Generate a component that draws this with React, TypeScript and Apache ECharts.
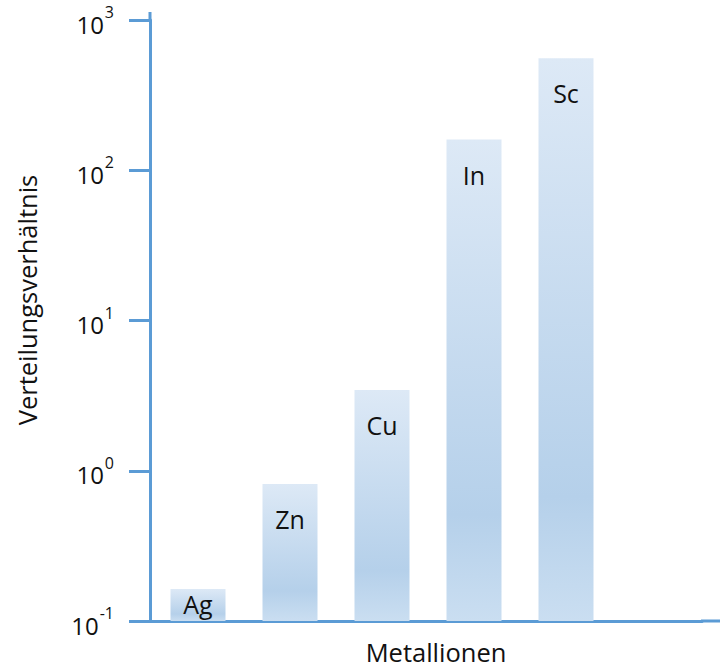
import React, { useEffect, useRef } from "react";
import * as echarts from "echarts";

const categories = ["Ag", "Zn", "Cu", "In", "Sc", ""];
const metals = ["Ag", "Zn", "Cu", "In", "Sc"];
const values = [0.163, 0.817, 3.45, 160, 556];
const yTickExponents = ["-1", "0", "1", "2", "3"];
const xTitle = "Metallionen";
const yTitle = "Verteilungsverhältnis";

const AXIS_BLUE = "#5b9bd5";
const FONT = "'Open Sans', 'Noto Sans', sans-serif";
const Y_MIN = 0.1;

export default function App() {
  const ref = useRef<HTMLDivElement>(null);
  useEffect(() => {
    if (!ref.current) return;
    const chart = echarts.init(ref.current, null, { renderer: "svg" });
    const gridLeft = 150;
    const gridTop = 20;
    const gridBottom = 49;
    const gridRight = 18;
    const barWidth = 55;
    const makeFill = () =>
      new echarts.graphic.LinearGradient(0, 0, 0, 1, [
        { offset: 0, color: "#dde9f6" },
        { offset: 0.78, color: "#b5d0ea" },
        { offset: 1, color: "#cadef1" },
      ]);
    chart.setOption({
      animation: false,
      backgroundColor: "#ffffff",
      grid: { left: gridLeft, top: gridTop, bottom: gridBottom, right: gridRight, containLabel: false },
      xAxis: {
        type: "category",
        data: categories,
        boundaryGap: true,
        axisLine: { show: true, lineStyle: { color: AXIS_BLUE, width: 3 } },
        axisTick: { show: false },
        axisLabel: { show: false },
        splitLine: { show: false },
      },
      yAxis: {
        type: "log",
        logBase: 10,
        min: Y_MIN,
        max: 1000,
        axisLine: { show: true, lineStyle: { color: AXIS_BLUE, width: 3 } },
        axisTick: { show: true, length: 21, inside: false, lineStyle: { color: AXIS_BLUE, width: 3 } },
        splitLine: { show: false },
        axisLabel: {
          margin: 36,
          formatter: (v: number) => {
            const e = Math.round(Math.log10(v));
            const s = yTickExponents.find((x) => Number(x) === e) ?? String(e);
            return "{b|10}{s|" + s + "}";
          },
          rich: {
            b: { fontSize: 24, fontFamily: FONT, color: "#111", lineHeight: 32, verticalAlign: "bottom" },
            s: { fontSize: 16, fontFamily: FONT, color: "#111", lineHeight: 32, verticalAlign: "top", padding: [0, 0, 0, 1] },
          },
        },
      },
      series: [
        {
          type: "custom",
          data: values.map((v, i) => [i, v]),
          encode: { x: 0, y: 1 },
          renderItem: (params: any, api: any) => {
            const idx = api.value(0);
            const v = api.value(1);
            const top = api.coord([idx, v]);
            const base = api.coord([idx, Y_MIN]);
            const h = base[1] - top[1];
            const cx = top[0] + 2;
            const labelY = h < 60 ? (top[1] + base[1]) / 2 - 1 : top[1] + 35;
            return {
              type: "group",
              children: [
                {
                  type: "rect",
                  shape: { x: cx - barWidth / 2, y: top[1], width: barWidth, height: h },
                  style: { fill: makeFill() },
                },
                {
                  type: "text",
                  x: cx,
                  y: labelY,
                  style: {
                    text: metals[params.dataIndex],
                    fontSize: 25,
                    fontFamily: FONT,
                    fill: "#111",
                    align: "center",
                    verticalAlign: "middle",
                  },
                },
              ],
            };
          },
        },
      ],
      graphic: [
        {
          type: "line",
          shape: { x1: 720 - gridRight - 1, y1: 670 - gridBottom, x2: 720, y2: 670 - gridBottom },
          style: { stroke: AXIS_BLUE, lineWidth: 3 },
        },
        {
          type: "line",
          shape: { x1: gridLeft, y1: 12, x2: gridLeft, y2: gridTop + 1 },
          style: { stroke: AXIS_BLUE, lineWidth: 3 },
        },
        {
          type: "text",
          x: 27,
          y: 300,
          rotation: Math.PI / 2,
          style: {
            text: yTitle,
            fontSize: 25.5,
            fontFamily: FONT,
            fill: "#111",
            align: "center",
            verticalAlign: "middle",
          },
        },
        {
          type: "text",
          x: 436,
          y: 652,
          style: {
            text: xTitle,
            fontSize: 25.5,
            lineHeight: 28,
            fontFamily: FONT,
            fill: "#111",
            align: "center",
            verticalAlign: "middle",
          },
        },
      ],
    });
    return () => chart.dispose();
  }, []);
  return (
    <div
      ref={ref}
      style={{ position: "fixed", left: 0, top: 0, width: 720, height: 670, background: "#fff" }}
    />
  );
}
